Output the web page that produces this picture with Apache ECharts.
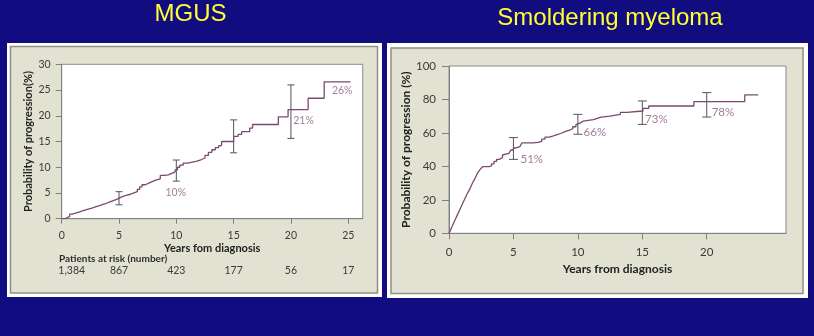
<!DOCTYPE html>
<html><head><meta charset="utf-8">
<script src="https://cdn.jsdelivr.net/npm/echarts@6/dist/echarts.min.js"></script>
<style>html,body{margin:0;padding:0;background:#110c80;}#c{width:814px;height:336px;}</style>
</head><body><div id="c"></div>
<script>
// ---------- MGUS ----------
const mgusYears = [0,0.3,0.5,0.7,0.9,1.2,1.5,1.8,2.1,2.4,2.7,3.0,3.3,3.6,3.9,4.2,4.5,4.8,5.1,5.4,5.7,6.0,6.3,6.6,6.8,7.0,7.3,7.6,7.9,8.2,8.6,9.0,9.3,9.6,9.9,10.1,10.3,10.6,11.0,11.4,11.8,12.2,12.5,12.8,13.1,13.4,13.7,13.95,15.0,15.4,15.7,16.4,16.65,18.9,19.75,21.5,22.9,25.2];
const mgusProb  = [0,0.2,0.5,0.9,1.1,1.3,1.5,1.7,1.9,2.1,2.35,2.55,2.8,3.0,3.25,3.5,3.75,4.1,4.4,4.6,4.75,5.0,5.25,5.7,6.2,6.6,6.9,7.2,7.5,7.75,8.4,8.5,8.8,9.1,9.5,10.0,10.4,10.8,11.0,11.2,11.5,11.8,12.3,12.9,13.4,13.8,14.2,15.0,16.0,16.4,16.9,17.6,18.3,19.8,21.2,23.4,26.6,26.6];
const mgusErrYears = [5,10,15,20];
const mgusErrLow   = [2.7,7.3,12.8,15.6];
const mgusErrHigh  = [5.25,11.4,19.2,26.0];
const mgusLabelText  = ['10%','21%','26%'];
const mgusLabelYears = [9.95,21.1,24.47];
const mgusLabelProb  = [5.15,19.04,24.8];
const mgusAtRiskYears = [0,5,10,15,20,25];
const mgusAtRisk      = ['1,384','867','423','177','56','17'];

// ---------- Smoldering myeloma ----------
const smmYears = [0,0.1,0.2,0.35,0.5,0.65,0.8,0.95,1.1,1.25,1.4,1.55,1.7,1.85,2.0,2.15,2.3,2.45,2.6,3.1,3.3,3.5,3.7,3.9,4.15,4.2,4.65,4.8,5.0,5.2,5.5,5.65,6.5,6.9,7.2,7.45,7.8,8.1,8.4,8.7,9.0,9.3,9.6,9.85,10.0,10.2,10.4,11.2,11.5,11.8,12.5,13.3,13.8,15.05,15.5,19.0,22.95,24.0];
const smmProb  = [0,1.5,3.5,6,8.5,11,13.5,16,18.5,21,23.5,25.5,28,30.5,32.5,35,37,38.5,39.8,40.3,41.5,43,44.2,45.3,46.8,47.8,48.2,49.8,51.0,51.8,52.5,54.0,54.3,55.0,56.3,57.5,58.2,59.0,59.8,60.8,61.5,62.5,63.7,65.0,66.0,67.0,68.0,68.7,69.5,70.1,71.1,72.3,73.1,74.7,76.1,78.7,82.7,82.7];
const smmErrYears = [5,10,15,20];
const smmErrLow   = [44.2,59.2,65.1,69.5];
const smmErrHigh  = [57.2,71.1,79.1,84.1];
const smmLabelText  = ['51%','66%','73%','78%'];
const smmLabelYears = [6.42,11.32,16.09,21.26];
const smmLabelProb  = [44.4,60.3,68.1,72.1];
const smmXTicks = [0,5,10,15,20];

const FONT = 'Lato';
const LINE = '#7a4a70';
const LABEL = '#8a5a82';
const TXT = '#3a3a3a';

function pairs(xs, ys){ return xs.map((x,i)=>[x, ys[i]]); }
function errData(xs, lo, hi){ return xs.map((x,i)=>[x, lo[i], hi[i]]); }
function errRender(cap){
  return function(params, api){
    const x = api.value(0);
    const a = api.coord([x, api.value(1)]);
    const b = api.coord([x, api.value(2)]);
    const st = {stroke:'#555', lineWidth:1};
    return {type:'group', children:[
      {type:'line', shape:{x1:a[0],y1:a[1],x2:b[0],y2:b[1]}, style:st},
      {type:'line', shape:{x1:a[0]-cap,y1:a[1],x2:a[0]+cap,y2:a[1]}, style:st},
      {type:'line', shape:{x1:b[0]-cap,y1:b[1],x2:b[0]+cap,y2:b[1]}, style:st}
    ]};
  };
}
function labelData(xs, ys, texts){ return xs.map((x,i)=>({value:[x, ys[i]], name:texts[i]})); }

const chart = echarts.init(document.getElementById('c'), null, {renderer:'canvas'});
const riskMap = {};
mgusAtRiskYears.forEach((y,i)=>{ riskMap[y] = mgusAtRisk[i]; });

chart.setOption({
  backgroundColor:'#110c80',
  animation:false,
  graphic:[
    {type:'rect', shape:{x:7,y:43,width:375,height:254}, style:{fill:'#ffffff'}, z:-10},
    {type:'rect', shape:{x:10.5,y:46.5,width:367,height:246.5}, style:{fill:'#e2e2d2', stroke:'#8e8e86', lineWidth:1.5}, z:-9},
    {type:'rect', shape:{x:387,y:43,width:421,height:255}, style:{fill:'#ffffff'}, z:-10},
    {type:'rect', shape:{x:391,y:48,width:412,height:245.5}, style:{fill:'#e2e2d2', stroke:'#8e8e86', lineWidth:1.5}, z:-9},
    {type:'text', x:190.5, y:14.5, style:{text:'MGUS', fill:'#ffff33', font:'24px "Liberation Sans", Arial, sans-serif', textAlign:'center', textVerticalAlign:'middle'}},
    {type:'text', x:610, y:18.5, style:{text:'Smoldering myeloma', fill:'#ffff33', font:'24px "Liberation Sans", Arial, sans-serif', textAlign:'center', textVerticalAlign:'middle'}},
    {type:'text', x:59, y:259, style:{text:'Patients at risk (number)', fill:'#2e2e2e', font:'bold 10px "'+FONT+'"', textAlign:'left', textVerticalAlign:'middle'}}
  ],
  grid:[
    {left:61.7, top:64.3, width:301, height:154.4, show:true, backgroundColor:'#ffffff', borderColor:'#8a8a8a', borderWidth:1},
    {left:449, top:66, width:337, height:167.3, show:true, backgroundColor:'#ffffff', borderColor:'#8a8a8a', borderWidth:1}
  ],
  xAxis:[
    {gridIndex:0, type:'value', min:0, max:26.26, interval:5,
     name:'Years fom diagnosis', nameLocation:'middle', nameGap:24,
     nameTextStyle:{fontFamily:FONT, fontWeight:'bold', fontSize:11, color:'#222'},
     axisLine:{lineStyle:{color:'#808080'}}, axisTick:{length:5, lineStyle:{color:'#808080'}},
     axisLabel:{fontFamily:FONT, fontSize:10.5, color:TXT, margin:11, showMaxLabel:false}, splitLine:{show:false}},
    {gridIndex:0, type:'value', min:0, max:26.26, interval:5, position:'bottom', offset:35,
     axisLine:{show:false}, axisTick:{show:false}, splitLine:{show:false},
     axisLabel:{fontFamily:FONT, fontSize:10.5, color:TXT, margin:11, showMaxLabel:false,
       formatter:function(v){ const t = riskMap[v]; if(t===undefined) return ''; return v===0 ? '{a|'+t+'}' : t; },
       rich:{a:{fontFamily:FONT, fontSize:10.5, color:TXT, padding:[0,0,0,20]}}}},
    {gridIndex:1, type:'value', min:0, max:26.15, interval:5,
     name:'Years from diagnosis', nameLocation:'middle', nameGap:30,
     nameTextStyle:{fontFamily:FONT, fontWeight:'bold', fontSize:12, color:'#222'},
     axisLine:{lineStyle:{color:'#808080'}},
     axisTick:{length:6, lineStyle:{color:'#808080'}, customValues:smmXTicks},
     axisLabel:{fontFamily:FONT, fontSize:11.5, color:TXT, margin:13, customValues:smmXTicks}, splitLine:{show:false}}
  ],
  yAxis:[
    {gridIndex:0, type:'value', min:0, max:30, interval:5,
     name:'Probability of progression(%)', nameLocation:'middle', nameGap:28,
     nameTextStyle:{fontFamily:FONT, fontWeight:'bold', fontSize:11, color:'#222'},
     axisLine:{lineStyle:{color:'#808080'}}, axisTick:{length:6, lineStyle:{color:'#808080'}},
     axisLabel:{fontFamily:FONT, fontSize:10.5, color:TXT, margin:11}, splitLine:{show:false}},
    {gridIndex:1, type:'value', min:0, max:100, interval:20,
     name:'Probability of progression (%)', nameLocation:'middle', nameGap:33,
     nameTextStyle:{fontFamily:FONT, fontWeight:'bold', fontSize:12, color:'#222'},
     axisLine:{lineStyle:{color:'#808080'}}, axisTick:{length:7, lineStyle:{color:'#808080'}},
     axisLabel:{fontFamily:FONT, fontSize:11.5, color:TXT, margin:13}, splitLine:{show:false}}
  ],
  series:[
    {type:'line', xAxisIndex:0, yAxisIndex:0, step:'end', data:pairs(mgusYears, mgusProb), showSymbol:false, lineStyle:{color:LINE, width:1.3}, silent:true},
    {type:'custom', xAxisIndex:0, yAxisIndex:0, data:errData(mgusErrYears, mgusErrLow, mgusErrHigh), renderItem:errRender(3.5), silent:true, z:3},
    {type:'scatter', xAxisIndex:0, yAxisIndex:0, symbolSize:0, data:labelData(mgusLabelYears, mgusLabelProb, mgusLabelText), silent:true,
     label:{show:true, position:[0,0], align:'center', verticalAlign:'middle', formatter:'{b}', fontFamily:FONT, fontSize:10.5, color:LABEL}},
    {type:'line', xAxisIndex:2, yAxisIndex:1, step:'end', data:pairs(smmYears, smmProb), showSymbol:false, lineStyle:{color:LINE, width:1.3}, silent:true},
    {type:'custom', xAxisIndex:2, yAxisIndex:1, data:errData(smmErrYears, smmErrLow, smmErrHigh), renderItem:errRender(4.5), silent:true, z:3},
    {type:'scatter', xAxisIndex:2, yAxisIndex:1, symbolSize:0, data:labelData(smmLabelYears, smmLabelProb, smmLabelText), silent:true,
     label:{show:true, position:[0,0], align:'center', verticalAlign:'middle', formatter:'{b}', fontFamily:FONT, fontSize:11.5, color:LABEL}}
  ]
});
</script></body></html>
